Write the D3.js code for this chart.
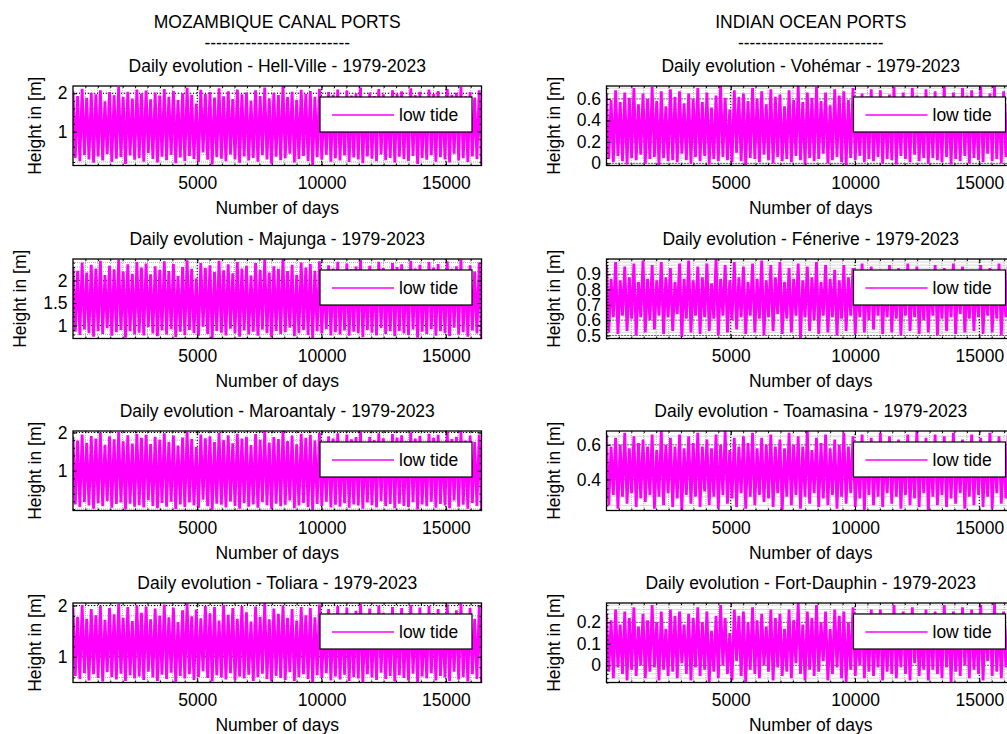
<!DOCTYPE html>
<html>
<head>
<meta charset="utf-8">
<script src="https://cdn.jsdelivr.net/npm/d3@7"></script>
<style>
    body { margin: 0; background: #fff; }
    svg { display: block; font-family: "Liberation Sans", Arial, sans-serif; }
    .txt { font-size: 17.5px; fill: #000; }
</style>
</head>
<body>
<div id="tide_chart"></div>
<script>
// days since 1979-01-01, until 2023-12-31
var dayStart = 1;
var dayEnd = 16436;
var xTicks = [5000, 10000, 15000];
var xMinorStep = 500;

var columnTitles = ["MOZAMBIQUE CANAL PORTS", "INDIAN OCEAN PORTS"];
var portNames = ["Hell-Ville", "Majunga", "Maroantaly", "Toliara",
                 "Vohémar", "Fénerive", "Toamasina", "Fort-Dauphin"];

// low tide heights in m (alternating peaks and troughs of the trace)
var hellVille = [
    2.05,0.31,1.93,0.22,2.12,0.38,1.88,0.27,2.01,0.18,1.97,0.35,2.08,0.24,1.79,0.41,2.03,0.20,1.95,0.29,2.16,0.33,1.90,0.15,2.04,0.37,1.86,0.26,2.10,0.30,
    1.99,0.21,2.07,0.43,1.84,0.28,2.02,0.19,1.94,0.34,2.11,0.25,1.91,0.39,2.06,0.17,1.82,0.32,2.00,0.23,2.14,0.36,1.96,0.28,1.73,0.20,2.09,0.45,1.98,0.26,
    2.03,0.14,1.89,0.33,2.13,0.29,1.92,0.22,2.05,0.40,1.85,0.27,2.10,0.18,1.97,0.35,2.02,0.24,1.80,0.31,2.08,0.21,1.93,0.38,2.15,0.27,1.87,0.16,2.01,0.34,
    1.95,0.25,2.19,0.30,1.90,0.42,2.04,0.19,1.83,0.28,2.09,0.36,1.98,0.23,2.06,0.11,1.91,0.33,2.12,0.26,1.77,0.39,2.03,0.21,1.96,0.30,2.10,0.24,1.88,0.37,
    2.07,0.20,1.94,0.32,2.00,0.27,2.15,0.17,1.86,0.35,2.02,0.29,1.93,0.22,2.11,0.40,1.97,0.25,1.81,0.31,2.08,0.19,1.99,0.34,2.05,0.28,1.90,0.23,2.13,0.36,
    1.95,0.15,2.04,0.31,1.87,0.26,2.10,0.38,1.98,0.21,2.06,0.33,1.84,0.27,2.12,0.19,1.96,0.42,2.01,0.24,2.17,0.30,1.92,0.20,2.03,0.35,1.89,0.28,2.08,0.13
];
var majunga = [
    2.31,0.86,2.22,0.79,2.40,0.91,2.18,0.83,2.35,0.75,2.27,0.88,2.44,0.81,2.12,0.94,2.33,0.77,2.25,0.85,2.46,0.90,2.20,0.73,2.36,0.87,2.15,0.80,2.41,0.84,
    2.29,0.78,2.38,0.96,2.14,0.82,2.32,0.76,2.24,0.89,2.43,0.80,2.21,0.92,2.37,0.74,2.10,0.86,2.30,0.79,2.45,0.90,2.26,0.83,2.05,0.77,2.39,0.97,2.28,0.81,
    2.34,0.72,2.19,0.88,2.44,0.84,2.23,0.78,2.36,0.93,2.16,0.82,2.41,0.75,2.27,0.89,2.33,0.80,2.11,0.86,2.39,0.77,2.24,0.91,2.47,0.83,2.18,0.74,2.32,0.88,
    2.26,0.81,2.48,0.85,2.21,0.95,2.35,0.76,2.13,0.83,2.40,0.90,2.29,0.79,2.37,0.71,2.22,0.87,2.43,0.82,2.08,0.92,2.34,0.78,2.27,0.85,2.42,0.80,2.19,0.89,
    2.38,0.77,2.25,0.86,2.31,0.83,2.46,0.74,2.17,0.90,2.33,0.84,2.24,0.78,2.42,0.94,2.28,0.81,2.12,0.87,2.39,0.76,2.30,0.88,2.36,0.82,2.21,0.79,2.44,0.91,
    2.27,0.73,2.35,0.86,2.18,0.81,2.41,0.92,2.29,0.77,2.37,0.87,2.15,0.83,2.43,0.76,2.26,0.95,2.32,0.80,2.47,0.85,2.23,0.75,2.34,0.89,2.20,0.82,2.40,0.72
];
var maroantaly = [
    1.88,0.12,1.79,0.05,1.95,0.18,1.73,0.09,1.91,0.01,1.84,0.15,1.99,0.07,1.68,0.21,1.90,0.03,1.82,0.13,2.01,0.17,1.77,-0.01,1.93,0.14,1.71,0.06,1.97,0.10,
    1.86,0.04,1.94,0.23,1.70,0.08,1.89,0.02,1.81,0.16,1.98,0.06,1.76,0.19,1.92,0.00,1.66,0.12,1.87,0.05,2.02,0.17,1.83,0.09,1.62,0.03,1.95,0.24,1.85,0.07,
    1.90,-0.02,1.75,0.14,1.99,0.11,1.80,0.04,1.93,0.20,1.72,0.08,1.97,0.01,1.84,0.15,1.89,0.06,1.67,0.12,1.96,0.03,1.81,0.18,2.03,0.10,1.74,0.00,1.88,0.14,
    1.83,0.07,2.04,0.11,1.78,0.22,1.92,0.02,1.69,0.09,1.97,0.16,1.86,0.05,1.94,-0.04,1.79,0.13,1.99,0.08,1.64,0.19,1.90,0.04,1.84,0.11,1.98,0.06,1.76,0.15,
    1.95,0.03,1.82,0.12,1.88,0.09,2.02,0.01,1.73,0.17,1.89,0.10,1.80,0.04,1.98,0.21,1.85,0.07,1.68,0.13,1.96,0.02,1.87,0.14,1.93,0.08,1.77,0.05,2.00,0.18,
    1.84,-0.01,1.91,0.12,1.74,0.07,1.97,0.19,1.86,0.03,1.94,0.13,1.71,0.09,2.01,0.02,1.83,0.22,1.89,0.06,2.03,0.11,1.79,0.01,1.92,0.16,1.76,0.08,1.95,-0.03
];
var toliara = [
    1.96,0.63,1.78,0.57,2.01,0.68,1.74,0.54,1.93,0.66,1.81,0.59,1.99,0.52,1.72,0.70,1.95,0.61,1.83,0.56,2.03,0.67,1.76,0.53,1.97,0.64,1.70,0.58,2.00,0.62,
    1.86,0.55,1.98,0.71,1.73,0.60,1.94,0.53,1.80,0.65,2.02,0.57,1.77,0.69,1.96,0.51,1.68,0.63,1.91,0.58,2.04,0.66,1.79,0.55,1.92,0.61,1.75,0.72,1.99,0.59,
    1.85,0.52,1.97,0.64,1.71,0.60,2.01,0.56,1.82,0.68,1.95,0.54,1.74,0.62,1.99,0.58,1.87,0.65,1.69,0.53,1.98,0.61,1.78,0.67,2.05,0.57,1.73,0.52,1.94,0.63,
    1.84,0.59,2.00,0.55,1.76,0.70,1.93,0.53,1.71,0.61,1.97,0.66,1.81,0.57,1.95,0.50,1.77,0.64,2.02,0.59,1.67,0.68,1.93,0.54,1.80,0.62,1.99,0.56,1.75,0.65,
    1.96,0.53,1.83,0.61,1.90,0.58,2.03,0.51,1.72,0.66,1.94,0.60,1.79,0.55,2.00,0.69,1.86,0.57,1.70,0.63,1.97,0.52,1.84,0.64,1.95,0.59,1.76,0.54,2.01,0.67,
    1.82,0.51,1.96,0.62,1.73,0.58,1.99,0.68,1.85,0.54,1.93,0.63,1.71,0.60,2.02,0.53,1.80,0.71,1.91,0.56,2.04,0.61,1.77,0.52,1.95,0.66,1.74,0.57,1.98,0.50
];
var vohemar = [
    0.64,0.04,0.59,0.01,0.68,0.07,0.57,0.02,0.66,-0.01,0.61,0.05,0.70,0.03,0.55,0.08,0.65,0.00,0.60,0.04,0.71,0.06,0.58,-0.02,0.67,0.05,0.53,0.02,0.69,0.03,
    0.62,0.01,0.67,0.09,0.56,0.03,0.65,0.00,0.60,0.06,0.70,0.02,0.57,0.07,0.66,-0.01,0.52,0.04,0.63,0.02,0.72,0.06,0.61,0.03,0.50,0.01,0.68,0.10,0.62,0.02,
    0.65,-0.02,0.58,0.05,0.70,0.04,0.60,0.01,0.67,0.08,0.55,0.03,0.69,0.00,0.62,0.06,0.64,0.02,0.53,0.04,0.68,0.01,0.59,0.07,0.72,0.03,0.57,-0.01,0.66,0.05,
    0.61,0.02,0.71,0.04,0.58,0.09,0.66,0.00,0.54,0.03,0.69,0.06,0.63,0.01,0.67,-0.02,0.59,0.05,0.70,0.03,0.51,0.07,0.65,0.01,0.62,0.04,0.69,0.02,0.57,0.06,
    0.68,0.00,0.60,0.04,0.64,0.03,0.71,-0.01,0.56,0.07,0.66,0.04,0.61,0.01,0.70,0.08,0.63,0.02,0.54,0.05,0.69,0.00,0.62,0.05,0.67,0.03,0.58,0.01,0.72,0.06,
    0.60,-0.01,0.66,0.04,0.57,0.02,0.70,0.07,0.63,0.00,0.68,0.05,0.55,0.03,0.71,0.01,0.61,0.09,0.65,0.02,0.72,0.04,0.59,0.00,0.67,0.06,0.56,0.02,0.69,-0.02
];
var fenerive = [
    0.96,0.52,0.87,0.62, 0.98,0.51,0.86,0.63, 0.95,0.53,0.88,0.61, 0.97,0.50,0.85,0.62, 0.99,0.52,0.87,0.60,
    0.96,0.54,0.86,0.63, 0.98,0.51,0.88,0.62, 0.94,0.53,0.85,0.64, 0.97,0.49,0.87,0.61, 0.99,0.52,0.86,0.63,
    0.95,0.51,0.88,0.62, 0.97,0.53,0.84,0.61, 1.00,0.50,0.87,0.63, 0.96,0.52,0.86,0.60, 0.98,0.54,0.88,0.62,
    0.95,0.51,0.85,0.63, 0.97,0.52,0.87,0.61, 0.99,0.50,0.86,0.62, 0.96,0.53,0.88,0.64, 0.98,0.51,0.85,0.61,
    0.94,0.52,0.87,0.63, 0.97,0.48,0.86,0.62, 0.95,0.53,0.88,0.60, 0.98,0.51,0.85,0.63, 0.96,0.52,0.87,0.62,
    0.93,0.50,0.86,0.61, 0.96,0.53,0.88,0.63, 0.94,0.51,0.85,0.62, 0.97,0.52,0.87,0.60, 0.95,0.54,0.86,0.63,
    0.93,0.51,0.88,0.62, 0.96,0.52,0.85,0.61, 0.94,0.50,0.87,0.63, 0.97,0.53,0.86,0.62, 0.95,0.51,0.88,0.60,
    0.93,0.52,0.85,0.63, 0.96,0.50,0.87,0.61, 0.94,0.53,0.86,0.62, 0.97,0.51,0.88,0.64, 0.95,0.52,0.85,0.61,
    0.93,0.53,0.87,0.62, 0.96,0.51,0.86,0.63, 0.94,0.52,0.88,0.61, 0.97,0.50,0.85,0.62, 0.95,0.52,0.87,0.63
];
var toamasina = [
    0.66,0.25,0.59,0.31, 0.64,0.23,0.60,0.30, 0.67,0.26,0.58,0.32, 0.65,0.24,0.61,0.29, 0.63,0.27,0.59,0.31,
    0.66,0.23,0.57,0.30, 0.68,0.25,0.60,0.32, 0.64,0.24,0.59,0.29, 0.66,0.22,0.58,0.31, 0.65,0.26,0.61,0.30,
    0.67,0.24,0.59,0.33, 0.63,0.25,0.58,0.30, 0.66,0.23,0.60,0.31, 0.68,0.26,0.57,0.29, 0.64,0.24,0.59,0.32,
    0.65,0.23,0.61,0.30, 0.67,0.25,0.58,0.31, 0.64,0.27,0.60,0.29, 0.66,0.24,0.59,0.32, 0.63,0.22,0.58,0.30,
    0.67,0.25,0.60,0.31, 0.65,0.23,0.59,0.30, 0.68,0.26,0.57,0.32, 0.64,0.24,0.61,0.29, 0.66,0.25,0.58,0.31,
    0.63,0.23,0.60,0.30, 0.67,0.26,0.59,0.32, 0.65,0.24,0.58,0.29, 0.66,0.22,0.60,0.31, 0.64,0.25,0.59,0.30,
    0.67,0.24,0.57,0.32, 0.65,0.26,0.60,0.30, 0.63,0.23,0.59,0.31, 0.66,0.25,0.58,0.29, 0.68,0.24,0.61,0.32,
    0.64,0.22,0.59,0.30, 0.66,0.25,0.58,0.31, 0.65,0.24,0.60,0.29, 0.67,0.26,0.57,0.32, 0.63,0.23,0.59,0.30,
    0.66,0.25,0.60,0.31, 0.64,0.24,0.58,0.30, 0.67,0.23,0.59,0.32, 0.65,0.26,0.61,0.29, 0.66,0.24,0.58,0.31
];
var fortDauphin = [
    0.24,-0.03,0.21,-0.06,0.26,-0.01,0.19,-0.04,0.25,-0.07,0.22,-0.02,0.27,-0.05,0.18,0.00,0.24,-0.06,0.21,-0.03,0.28,-0.01,0.20,-0.07,0.25,-0.02,0.17,-0.05,0.26,-0.03,
    0.23,-0.06,0.25,0.01,0.19,-0.04,0.24,-0.07,0.22,-0.01,0.27,-0.05,0.20,-0.02,0.25,-0.08,0.16,-0.03,0.23,-0.06,0.28,0.00,0.22,-0.04,0.15,-0.07,0.26,0.02,0.23,-0.05,
    0.25,-0.08,0.20,-0.02,0.27,-0.04,0.21,-0.06,0.24,0.00,0.18,-0.03,0.26,-0.07,0.22,-0.01,0.24,-0.05,0.17,-0.03,0.26,-0.06,0.21,0.01,0.29,-0.04,0.19,-0.07,0.25,-0.02,
    0.22,-0.05,0.28,-0.03,0.20,0.02,0.25,-0.07,0.17,-0.04,0.26,-0.01,0.23,-0.06,0.25,-0.08,0.20,-0.02,0.27,-0.05,0.16,0.00,0.24,-0.06,0.22,-0.03,0.26,-0.05,0.19,-0.01,
    0.26,-0.07,0.21,-0.03,0.24,-0.04,0.28,-0.06,0.18,-0.01,0.25,-0.04,0.22,-0.07,0.27,0.01,0.23,-0.05,0.17,-0.02,0.26,-0.07,0.23,-0.02,0.25,-0.04,0.20,-0.06,0.28,-0.01,
    0.21,-0.08,0.25,-0.03,0.19,-0.05,0.27,0.00,0.23,-0.06,0.26,-0.02,0.18,-0.04,0.28,-0.07,0.22,0.02,0.24,-0.05,0.29,-0.03,0.20,-0.06,0.25,-0.01,0.19,-0.04,0.26,-0.08
];

// y tick labels of each panel, and the minor tick step
var hellVilleTicks = [1, 2];
var majungaTicks = [1, 1.5, 2];
var maroantalyTicks = [1, 2];
var toliaraTicks = [1, 2];
var vohemarTicks = [0, 0.2, 0.4, 0.6];
var feneriveTicks = [0.5, 0.6, 0.7, 0.8, 0.9];
var toamasinaTicks = [0.4, 0.6];
var fortDauphinTicks = [0, 0.1, 0.2];
var minorSteps = [0.2, 0.1, 0.2, 0.2, 0.05, 0.02, 0.05, 0.02];

function init() {

    var width = 1007;
    var height = 734;

    var colLeft = [73, 606.5];
    var plotW = 408.5;
    var rowTop = [86, 259, 431, 603];
    var plotH = 79.5;
    var magenta = "#ff00ff";

    var series = [hellVille, majunga, maroantaly, toliara, vohemar, fenerive, toamasina, fortDauphin];
    var ticks = [hellVilleTicks, majungaTicks, maroantalyTicks, toliaraTicks,
                 vohemarTicks, feneriveTicks, toamasinaTicks, fortDauphinTicks];

    var svg = d3.select("#tide_chart")
        .append("svg")
        .attr("width", width)
        .attr("height", height);

    var defs = svg.append("defs");

    // column headers (first lines of the top titles)
    columnTitles.forEach(function (t, c) {
        var cx = colLeft[c] + plotW / 2;
        svg.append("text").attr("class", "txt")
            .attr("x", cx).attr("y", 27.5)
            .attr("text-anchor", "middle")
            .text(t);
        svg.append("text").attr("class", "txt")
            .attr("x", cx).attr("y", 49)
            .attr("text-anchor", "middle")
            .text("-------------------------");
    });

    series.forEach(function (data, k) {
        var col = Math.floor(k / 4);
        var row = k % 4;
        var left = colLeft[col];
        var top = rowTop[row];

        var x = d3.scaleLinear().domain([dayStart, dayEnd]).range([0, plotW]);
        var y = d3.scaleLinear().domain(d3.extent(data)).range([plotH, 0]);

        var g = svg.append("g").attr("transform", "translate(" + left + "," + top + ")");

        defs.append("clipPath").attr("id", "clip" + k)
            .append("rect").attr("width", plotW).attr("height", plotH);

        // minor grid
        var yMin = y.domain()[0], yMax = y.domain()[1];
        var step = minorSteps[k];
        var yMinor = d3.range(Math.ceil(yMin / step - 1e-6), Math.floor(yMax / step + 1e-6) + 1)
            .map(function (i) { return +(i * step).toFixed(4); });
        var xMinor = d3.range(xMinorStep, dayEnd, xMinorStep);

        var grid = g.append("g").attr("clip-path", "url(#clip" + k + ")");
        grid.selectAll(".vminor").data(xMinor).enter().append("line")
            .attr("x1", function (d) { return x(d); }).attr("x2", function (d) { return x(d); })
            .attr("y1", 0).attr("y2", plotH)
            .attr("stroke", "#b0b0b0").attr("stroke-width", 1)
            .attr("stroke-dasharray", "1,1");
        grid.selectAll(".hminor").data(yMinor).enter().append("line")
            .attr("x1", 0).attr("x2", plotW)
            .attr("y1", function (d) { return y(d); }).attr("y2", function (d) { return y(d); })
            .attr("stroke", "#b0b0b0").attr("stroke-width", 1)
            .attr("stroke-dasharray", "1,1");
        // major grid
        grid.selectAll(".vmajor").data(xTicks).enter().append("line")
            .attr("x1", function (d) { return x(d); }).attr("x2", function (d) { return x(d); })
            .attr("y1", 0).attr("y2", plotH)
            .attr("stroke", "#000").attr("stroke-width", 1)
            .attr("stroke-dasharray", "1,2");
        grid.selectAll(".hmajor").data(ticks[k]).enter().append("line")
            .attr("x1", 0).attr("x2", plotW)
            .attr("y1", function (d) { return y(d); }).attr("y2", function (d) { return y(d); })
            .attr("stroke", "#000").attr("stroke-width", 1)
            .attr("stroke-dasharray", "1,2");

        // the tide trace
        var n = data.length;
        var line = d3.line()
            .x(function (d, i) { return x(dayStart + i * (dayEnd - dayStart) / (n - 1)); })
            .y(function (d) { return y(d); });

        g.append("path")
            .datum(data)
            .attr("clip-path", "url(#clip" + k + ")")
            .attr("fill", "none")
            .attr("stroke", magenta)
            .attr("stroke-width", 2.8)
            .attr("stroke-linejoin", "bevel")
            .attr("d", line);

        // axes, ticks pointing inwards on all four sides
        function styleAxis(a) {
            a.attr("font-size", null).attr("font-family", null).attr("color", "#000");
            a.select(".domain").remove();
            a.selectAll("text").attr("class", "txt");
        }

        var yAxis = g.append("g")
            .call(d3.axisLeft(y).tickValues(ticks[k]).tickSize(-4).tickPadding(5.5)
                .tickFormat(function (d) { return String(d); }))
            .call(styleAxis);
        g.append("g").attr("transform", "translate(" + plotW + ",0)")
            .call(d3.axisRight(y).tickValues(ticks[k]).tickSize(-4).tickFormat(""))
            .call(styleAxis);
        g.append("g")
            .call(d3.axisLeft(y).tickValues(yMinor).tickSize(-2).tickFormat(""))
            .call(styleAxis);
        g.append("g").attr("transform", "translate(" + plotW + ",0)")
            .call(d3.axisRight(y).tickValues(yMinor).tickSize(-2).tickFormat(""))
            .call(styleAxis);

        g.append("g").attr("transform", "translate(0," + plotH + ")")
            .call(d3.axisBottom(x).tickValues(xTicks).tickSize(-4).tickPadding(11)
                .tickFormat(function (d) { return String(d); }))
            .call(styleAxis);
        g.append("g")
            .call(d3.axisTop(x).tickValues(xTicks).tickSize(-4).tickFormat(""))
            .call(styleAxis);
        g.append("g").attr("transform", "translate(0," + plotH + ")")
            .call(d3.axisBottom(x).tickValues(xMinor).tickSize(-2).tickFormat(""))
            .call(styleAxis);
        g.append("g")
            .call(d3.axisTop(x).tickValues(xMinor).tickSize(-2).tickFormat(""))
            .call(styleAxis);

        // box
        g.append("rect")
            .attr("width", plotW).attr("height", plotH)
            .attr("fill", "none").attr("stroke", "#000").attr("stroke-width", 1.3);

        // legend
        var lw = 152, lh = 35;
        var lx = Math.round(plotW - 10 - lw), ly = 11;
        var lg = g.append("g").attr("transform", "translate(" + lx + "," + ly + ")");
        lg.append("rect").attr("width", lw).attr("height", lh)
            .attr("fill", "#fff").attr("stroke", "#000").attr("stroke-width", 1.2);
        lg.append("line").attr("x1", 12).attr("x2", 74)
            .attr("y1", 18).attr("y2", 18)
            .attr("stroke", magenta).attr("stroke-width", 1.3);
        lg.append("text").attr("class", "txt")
            .attr("x", 79).attr("y", lh / 2 + 6)
            .text("low tide");

        // titles and labels
        g.append("text").attr("class", "txt")
            .attr("x", plotW / 2).attr("y", -14.5)
            .attr("text-anchor", "middle")
            .text("Daily evolution - " + portNames[k] + " - 1979-2023");

        g.append("text").attr("class", "txt")
            .attr("x", plotW / 2).attr("y", plotH + 48)
            .attr("text-anchor", "middle")
            .text("Number of days");

        var maxW = 0;
        yAxis.selectAll("text").each(function () {
            maxW = Math.max(maxW, this.getComputedTextLength());
        });
        var lx2 = -maxW - 22.5;
        g.append("text").attr("class", "txt")
            .attr("transform", "translate(" + lx2 + "," + (plotH / 2) + ") rotate(-90)")
            .attr("text-anchor", "middle")
            .text("Height in [m]");
    });
}

window.onload = init;
</script>
</body>
</html>
